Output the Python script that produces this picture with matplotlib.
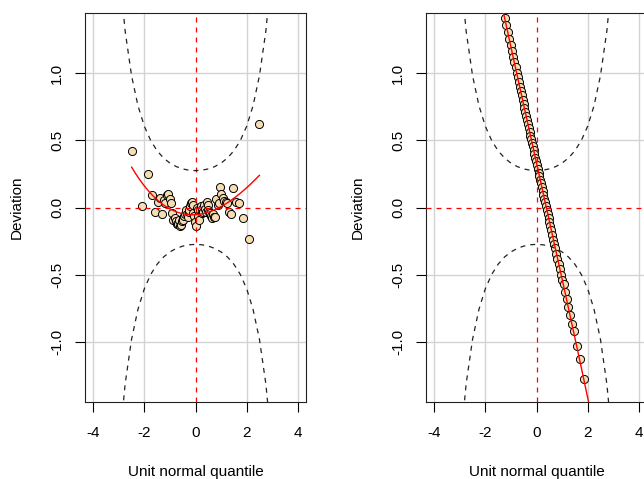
import math
from statistics import NormalDist
import numpy as np
import matplotlib
matplotlib.use("Agg")
import matplotlib.pyplot as plt

plt.rcParams['font.family'] = ['Liberation Sans', 'DejaVu Sans']
plt.rcParams['axes.unicode_minus'] = False

# deviations (sample quantile - theoretical quantile), in rank order
dev_left = [0.42, 0.01, 0.25, 0.09, -0.03, 0.04, 0.07, -0.045, 0.055, 0.03,
            0.095, 0.10, 0.06, 0.03, -0.04, -0.095, -0.08, -0.10, -0.12, -0.125,
            -0.09, -0.135, -0.13, -0.10, -0.08, -0.095, -0.06, -0.045, -0.02, -0.05,
            -0.07, -0.03, -0.015, 0.01, 0.03, 0.04, 0.02, -0.04, -0.06, -0.11,
            -0.14, 0.0, -0.02, -0.06, -0.09, -0.02, 0.01, -0.01, -0.04, -0.03,
            0.02, -0.01, -0.03, 0.04, 0.02, -0.02, -0.03, -0.04, -0.06, -0.08,
            -0.05, -0.07, -0.07, 0.06, 0.02, 0.03, 0.15, 0.10, 0.07, 0.05,
            0.04, 0.03, -0.03, -0.05, 0.145, 0.04, 0.03, -0.075, -0.234, 0.62]

dev_right = [2.51, 2.15, 1.95, 1.82, 1.71, 1.62, 1.55, 1.48, 1.415, 1.36,
             1.305, 1.255, 1.21, 1.165, 1.12, 1.085, 1.045, 1.005, 0.97, 0.935,
             0.90, 0.865, 0.835, 0.80, 0.77, 0.74, 0.71, 0.68, 0.65, 0.62,
             0.595, 0.565, 0.535, 0.51, 0.48, 0.455, 0.425, 0.40, 0.37, 0.345,
             0.315, 0.29, 0.26, 0.235, 0.205, 0.18, 0.15, 0.125, 0.095, 0.065,
             0.04, 0.01, -0.02, -0.05, -0.08, -0.11, -0.14, -0.17, -0.205, -0.24,
             -0.27, -0.305, -0.345, -0.38, -0.42, -0.46, -0.50, -0.54, -0.57, -0.63,
             -0.68, -0.74, -0.80, -0.87, -0.92, -1.03, -1.13, -1.28, -1.50, -1.90]

xticks = [-4, -2, 0, 2, 4]
yticks = [-1.0, -0.5, 0.0, 0.5, 1.0]
ytick_labels = ['-1.0', '-0.5', '0.0', '0.5', '1.0']

xlim_all = 4
nd = NormalDist()


def qq_x(n):
    return np.array([nd.inv_cdf((i - 0.5) / n) for i in range(1, n + 1)])


def worm(ax, dev):
    dev = np.array(dev)
    n = len(dev)
    x = qq_x(n)
    ylim_all = 12 * math.sqrt(1 / n)

    ax.scatter(x, dev, s=34, c='#F5DEB3', edgecolors='black', linewidths=0.7, zorder=2)

    for t in xticks:
        if t != 0:
            ax.axvline(t, color='#D3D3D3', lw=1, zorder=1)
    for t in yticks:
        if t != 0:
            ax.axhline(t, color='#D3D3D3', lw=1, zorder=1)
    ax.axhline(0, color='red', lw=0.9, ls=(0, (4, 4)), zorder=3)
    ax.axvline(0, color='red', lw=0.9, ls=(0, (4, 4)), zorder=3)

    # 95% confidence envelope
    z = np.arange(-xlim_all, xlim_all + 0.001, 0.25)
    p = np.array([nd.cdf(v) for v in z])
    d = np.array([nd.pdf(v) for v in z])
    se = (1 / d) * np.sqrt(p * (1 - p) / n)
    low = nd.inv_cdf(0.025) * se
    ax.plot(z, low, color='#222222', lw=0.9, ls=(0, (4, 4)), zorder=4)
    ax.plot(z, -low, color='#222222', lw=0.9, ls=(0, (4, 4)), zorder=4)

    # cubic fit through the worm
    coef = np.polyfit(x, dev, 3)
    xs = np.linspace(x.min(), x.max(), 3 * n)
    keep = (xs > -3) & (xs < 3)
    ax.plot(xs[keep], np.polyval(coef, xs[keep]), color='red', lw=1, zorder=5)

    ax.set_xlim(-xlim_all * 1.08, xlim_all * 1.08)
    ax.set_ylim(-ylim_all * 1.08, ylim_all * 1.08)
    ax.set_xticks(xticks)
    ax.set_xticklabels([str(t) for t in xticks])
    ax.set_yticks(yticks)
    ax.set_yticklabels(ytick_labels, rotation=90, va='center')
    ax.tick_params(direction='out', length=7, width=0.8, labelsize=11, pad=8)
    ax.tick_params(axis='x', pad=10)
    ax.set_xlabel('Unit normal quantile', fontsize=11, labelpad=18)
    ax.set_ylabel('Deviation', fontsize=11, labelpad=19)
    for s in ax.spines.values():
        s.set_linewidth(0.8)
        s.set_color('#222222')


fig = plt.figure(figsize=(6.44, 4.79), dpi=100)
W, H = 644, 479
ax1 = fig.add_axes([85 / W, 1 - 402 / H, 221 / W, 389 / H])
ax2 = fig.add_axes([426 / W, 1 - 402 / H, 221 / W, 389 / H])
worm(ax1, dev_left)
worm(ax2, dev_right)

fig.savefig('out.png', dpi=100)
